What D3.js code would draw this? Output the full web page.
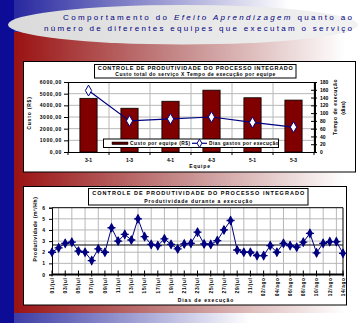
<!DOCTYPE html>
<html><head><meta charset="utf-8">
<script src="https://cdn.jsdelivr.net/npm/d3@7"></script>
<style>html,body{margin:0;padding:0;background:#fff;overflow:hidden}svg{display:block}</style>
</head><body>
<svg id="c" width="362" height="323"></svg>
<script>
// ---- dados: custo e tempo por equipe ----
const equipes = ["3-1", "1-3", "4-1", "4-3", "5-1", "5-3"];
const custoPorEquipe = [4600, 3750, 4350, 5300, 4650, 4450];
const diasPorExecucao = [158, 80, 85, 90, 76, 64];
const custoTicks = [0, 1000, 2000, 3000, 4000, 5000, 6000];
const diasTicks = [0, 20, 40, 60, 80, 100, 120, 140, 160, 180];

// ---- dados: produtividade diária ----
const produtividade = [2.0, 2.4, 2.8, 2.9, 2.1, 2.0, 1.25, 2.3, 2.0, 4.2,
  3.0, 3.6, 3.1, 5.0, 3.4, 2.7, 2.6, 3.2, 2.7, 2.3,
  2.75, 2.8, 3.8, 2.75, 2.7, 3.05, 4.0, 4.85, 2.2, 2.0,
  2.0, 1.7, 1.7, 2.6, 2.0, 2.8, 2.6, 2.45, 2.9, 3.7,
  1.95, 2.8, 2.95, 2.95, 1.9];
const rotulosDias = ["01/jul", "03/jul", "05/jul", "07/jul", "09/jul", "11/jul", "13/jul", "15/jul",
  "17/jul", "19/jul", "21/jul", "23/jul", "25/jul", "27/jul", "29/jul", "31/jul",
  "02/ago", "04/ago", "06/ago", "08/ago", "10/ago", "12/ago", "14/ago"];
const prodTicks = [0, 1, 2, 3, 4, 5, 6];
const referencia = 2.65;

const FONT = "'Liberation Sans', Arial, sans-serif";
const NAVY = "#000080";
const svg = d3.select("#c");
const defs = svg.append("defs");

function grad(id, x1, x2, stops) {
  const g = defs.append("linearGradient").attr("id", id)
    .attr("gradientUnits", "userSpaceOnUse")
    .attr("x1", x1).attr("x2", x2).attr("y1", 0).attr("y2", 0);
  stops.forEach(([o, c]) => g.append("stop").attr("offset", o).attr("stop-color", c));
}
grad("gTopo", 14, 290, [[0, "#2828a0"], [1, "#ffffff"]]);
grad("gVermelho", 14, 345, [[0, "#9a1212"], [0.5, "#c58a8a"], [1, "#ffffff"]]);
grad("gBase", 14, 250, [[0, "#3c3ca6"], [1, "#ffffff"]]);
grad("gElipse", 8, 358, [[0, "#dadada"], [1, "#f2f2f2"]]);

// ---- fundo do slide ----
svg.append("rect").attr("width", 362).attr("height", 323).attr("fill", "#fff");
svg.append("rect").attr("x", 0).attr("y", 0).attr("width", 362).attr("height", 32).attr("fill", "url(#gTopo)");
svg.append("rect").attr("x", 14).attr("y", 32).attr("width", 348).attr("height", 281).attr("fill", "url(#gVermelho)");
svg.append("rect").attr("x", 14).attr("y", 313).attr("width", 348).attr("height", 10).attr("fill", "url(#gBase)");
svg.append("rect").attr("x", 0).attr("y", 0).attr("width", 14).attr("height", 323).attr("fill", "#0c0c96");

svg.append("ellipse").attr("cx", 183).attr("cy", 24.7).attr("rx", 175).attr("ry", 19.8)
  .attr("fill", "url(#gElipse)");

const t1 = svg.append("text").attr("x", 63).attr("y", 20).attr("textLength", 289)
  .attr("lengthAdjust", "spacing").attr("font-family", FONT).attr("font-size", 8)
  .attr("fill", NAVY);
t1.append("tspan").text("Comportamento do ");
t1.append("tspan").attr("font-style", "italic").text("Efeito Aprendizagem");
t1.append("tspan").text(" quanto ao");
svg.append("text").attr("x", 44).attr("y", 31).attr("textLength", 308)
  .attr("lengthAdjust", "spacing").attr("font-family", FONT).attr("font-size", 8)
  .attr("fill", NAVY).text("número de diferentes equipes que executam o serviço");

function caixaTitulo(x, y, w, h, titulo, tl, sub, sl) {
  svg.append("rect").attr("x", x).attr("y", y).attr("width", w).attr("height", h)
    .attr("fill", "#fff").attr("stroke", "#000").attr("stroke-width", 1);
  const cx = x + w / 2;
  svg.append("text").attr("x", cx - tl / 2).attr("y", y + h * 0.42)
    .attr("textLength", tl).attr("lengthAdjust", "spacing")
    .attr("font-family", FONT).attr("font-size", 5.5).attr("font-weight", "bold").text(titulo);
  svg.append("text").attr("x", cx - sl / 2).attr("y", y + h * 0.85)
    .attr("textLength", sl).attr("lengthAdjust", "spacing")
    .attr("font-family", FONT).attr("font-size", 5).attr("font-weight", "bold").text(sub);
}

const txt = (sel, s) => sel.attr("font-family", FONT).attr("font-size", s || 5).attr("font-weight", "bold");

// ================= gráfico 1: custo x tempo =================
svg.append("rect").attr("x", 23.5).attr("y", 61.5).attr("width", 332).attr("height", 110.5)
  .attr("fill", "#fff").attr("stroke", "#000");

const p1 = { l: 68, r: 314, t: 82, b: 152 };
const x1 = d3.scaleBand().domain(equipes).range([p1.l, p1.r]).paddingInner(0.58).paddingOuter(0.29);
const yC = d3.scaleLinear().domain([0, 6000]).range([p1.b, p1.t]);
const yD = d3.scaleLinear().domain([0, 180]).range([p1.b, p1.t]);
const virg = d3.formatLocale({ decimal: ",", thousands: "", grouping: [3], currency: ["R$", ""] }).format(".2f");

const g1 = svg.append("g");
g1.selectAll("line.gh").data(custoTicks.slice(1, -1)).join("line")
  .attr("x1", p1.l).attr("x2", p1.r).attr("y1", d => yC(d)).attr("y2", d => yC(d))
  .attr("stroke", "#b8b8b8").attr("stroke-width", 1);
const limites = equipes.slice(1).map(d => x1(d) - (x1.step() - x1.bandwidth()) / 2);
g1.selectAll("line.gv").data(limites).join("line")
  .attr("x1", d => d).attr("x2", d => d).attr("y1", p1.t).attr("y2", p1.b)
  .attr("stroke", "#b8b8b8");
g1.append("line").attr("x1", p1.l).attr("x2", p1.r).attr("y1", p1.t + 0.5).attr("y2", p1.t + 0.5).attr("stroke", "#000");

g1.selectAll("rect.bar").data(custoPorEquipe).join("rect")
  .attr("x", (d, i) => x1(equipes[i])).attr("width", x1.bandwidth())
  .attr("y", d => yC(d)).attr("height", d => yC(0) - yC(d))
  .attr("fill", "#800000").attr("stroke", "#000").attr("stroke-width", 0.8);

// eixos
const axL = g1.append("g").attr("transform", `translate(${p1.l},0)`)
  .call(d3.axisLeft(yC).tickValues(custoTicks).tickFormat(virg).tickSize(4).tickPadding(2));
const axR = g1.append("g").attr("transform", `translate(${p1.r},0)`)
  .call(d3.axisRight(yD).tickValues(diasTicks).tickSize(3).tickPadding(3));
axR.selectAll(".tick line").attr("x1", -3);
g1.append("line").attr("x1", p1.r + 1.5).attr("x2", p1.r + 1.5).attr("y1", p1.t).attr("y2", p1.b).attr("stroke", "#000");
const axB = g1.append("g").attr("transform", `translate(0,${p1.b})`)
  .call(d3.axisBottom(x1).tickSize(0).tickPadding(6));
[axL, axR, axB].forEach(a => {
  a.select(".domain").attr("stroke", "#000").attr("stroke-width", 1.2);
  a.selectAll(".tick line").attr("stroke", "#000");
  txt(a.selectAll("text"), 5).attr("fill", "#000");
});
axL.selectAll("text").attr("letter-spacing", 0.6);
g1.selectAll("line.tb").data([p1.l, ...limites, p1.r]).join("line")
  .attr("x1", d => d).attr("x2", d => d).attr("y1", p1.b).attr("y2", p1.b + 3).attr("stroke", "#000");

// linha de dias
const linha1 = d3.line().x((d, i) => x1(equipes[i]) + x1.bandwidth() / 2).y(d => yD(d));
g1.append("path").datum(diasPorExecucao).attr("d", linha1)
  .attr("fill", "none").attr("stroke", NAVY).attr("stroke-width", 1.2);
g1.selectAll("path.mk").data(diasPorExecucao).join("path")
  .attr("transform", (d, i) => `translate(${x1(equipes[i]) + x1.bandwidth() / 2},${yD(d)})`)
  .attr("d", d3.symbol(d3.symbolDiamond, 34))
  .attr("fill", "#fff").attr("stroke", NAVY).attr("stroke-width", 1);

txt(g1.append("text"), 5).attr("transform", "translate(31,113) rotate(-90)")
  .attr("text-anchor", "middle").attr("letter-spacing", 0.8).text("Custo (R$)");
txt(g1.append("text"), 5).attr("transform", "translate(337,107) rotate(-90)")
  .attr("text-anchor", "middle").attr("letter-spacing", 0.5).text("Tempo de execução");
txt(g1.append("text"), 5).attr("transform", "translate(345,108) rotate(-90)")
  .attr("text-anchor", "middle").text("(dias)");
txt(g1.append("text"), 5).attr("x", 200).attr("y", 168).attr("text-anchor", "middle")
  .attr("letter-spacing", 0.8).text("Equipe");

// legenda
g1.append("rect").attr("x", 103.5).attr("y", 139).attr("width", 175).attr("height", 8.5)
  .attr("fill", "#fff").attr("stroke", "#000");
g1.append("rect").attr("x", 112).attr("y", 142).attr("width", 16).attr("height", 2.6)
  .attr("fill", "#500000").attr("stroke", "#000").attr("stroke-width", 0.5);
txt(g1.append("text"), 4.8).attr("x", 130).attr("y", 145.3).attr("letter-spacing", 0.5).text("Custo por equipe (R$)");
g1.append("line").attr("x1", 192).attr("x2", 207).attr("y1", 143.3).attr("y2", 143.3).attr("stroke", NAVY).attr("stroke-width", 1.2);
g1.append("path").attr("transform", "translate(199.5,143.3)").attr("d", d3.symbol(d3.symbolDiamond, 20))
  .attr("fill", "#fff").attr("stroke", NAVY);
txt(g1.append("text"), 4.8).attr("x", 209).attr("y", 145.3).attr("letter-spacing", 0.45).text("Dias gastos por execução");

caixaTitulo(94.5, 64.5, 201.5, 13.5, "CONTROLE DE PRODUTIVIDADE DO PROCESSO INTEGRADO", 195,
  "Custo total do serviço X Tempo de execução por equipe", 160);

// ================= gráfico 2: produtividade =================
svg.append("rect").attr("x", 23.5).attr("y", 186.5).attr("width", 323).attr("height", 118.5)
  .attr("fill", "#fff").attr("stroke", "#000");

const p2 = { l: 52, r: 343, t: 207.7, b: 274.5 };
const x2 = d3.scaleLinear().domain([0, produtividade.length - 1]).range([p2.l, p2.r]);
const y2 = d3.scaleLinear().domain([0, 6]).range([p2.b, p2.t]);
const g2 = svg.append("g");

g2.selectAll("line.gh").data(prodTicks.slice(1, -1)).join("line")
  .attr("x1", p2.l).attr("x2", p2.r).attr("y1", d => y2(d)).attr("y2", d => y2(d))
  .attr("stroke", "#b8b8b8");
const idxGrade = produtividade.map((d, i) => i).filter(i => i % 2 === 1);
g2.selectAll("line.gv").data(idxGrade).join("line")
  .attr("x1", d => x2(d)).attr("x2", d => x2(d)).attr("y1", p2.t).attr("y2", p2.b)
  .attr("stroke", "#b8b8b8");
g2.append("line").attr("x1", p2.l).attr("x2", p2.r).attr("y1", p2.t).attr("y2", p2.t).attr("stroke", "#000");
g2.append("line").attr("x1", p2.r).attr("x2", p2.r).attr("y1", p2.t).attr("y2", p2.b).attr("stroke", "#000");
g2.append("line").attr("x1", p2.l).attr("x2", p2.r).attr("y1", y2(referencia)).attr("y2", y2(referencia))
  .attr("stroke", "#000").attr("stroke-width", 1);

const axL2 = g2.append("g").attr("transform", `translate(${p2.l},0)`)
  .call(d3.axisLeft(y2).tickValues(prodTicks).tickFormat(d3.format("d")).tickSize(3).tickPadding(4));
axL2.select(".domain").attr("stroke", "#000");
axL2.selectAll(".tick line").attr("stroke", "#000");
txt(axL2.selectAll("text"), 5).attr("fill", "#000");

const idxRot = produtividade.map((d, i) => i).filter(i => i % 2 === 0);
g2.append("line").attr("x1", p2.l).attr("x2", p2.r + 1).attr("y1", p2.b).attr("y2", p2.b)
  .attr("stroke", "#000").attr("stroke-width", 2);
g2.selectAll("line.tk").data(idxRot).join("line")
  .attr("x1", d => x2(d)).attr("x2", d => x2(d)).attr("y1", p2.b - 4).attr("y2", p2.b + 2)
  .attr("stroke", "#000");
g2.selectAll("text.rot").data(idxRot).join("text")
  .attr("transform", d => `translate(${x2(d) + 1.8},${p2.b + 3}) rotate(-90)`)
  .attr("text-anchor", "end").attr("letter-spacing", 0.6)
  .attr("font-family", FONT).attr("font-size", 4.8).attr("font-weight", "bold")
  .text((d, k) => rotulosDias[k]);

const linha2 = d3.line().x((d, i) => x2(i)).y(d => y2(d));
g2.append("path").datum(produtividade).attr("d", linha2)
  .attr("fill", "none").attr("stroke", NAVY).attr("stroke-width", 1);
const mk = g2.selectAll("g.mk").data(produtividade).join("g")
  .attr("transform", (d, i) => `translate(${x2(i)},${y2(d)})`);
mk.append("path").attr("d", d3.symbol(d3.symbolDiamond, 30)).attr("fill", NAVY);
mk.append("path").attr("d", "M-4,0H4M0,-4V4").attr("stroke", NAVY).attr("stroke-width", 1.3);

txt(g2.append("text"), 5).attr("transform", "translate(37,229) rotate(-90)")
  .attr("text-anchor", "middle").attr("letter-spacing", 0.6).text("Produtividade (m²/Hh)");
txt(g2.append("text"), 5).attr("x", 206).attr("y", 301.5).attr("text-anchor", "middle")
  .attr("letter-spacing", 0.9).text("Dias de execução");

caixaTitulo(88.5, 188.5, 219.5, 16.5, "CONTROLE DE PRODUTIVIDADE DO PROCESSO INTEGRADO", 212,
  "Produtividade durante a execução", 108);
</script>
</body></html>
